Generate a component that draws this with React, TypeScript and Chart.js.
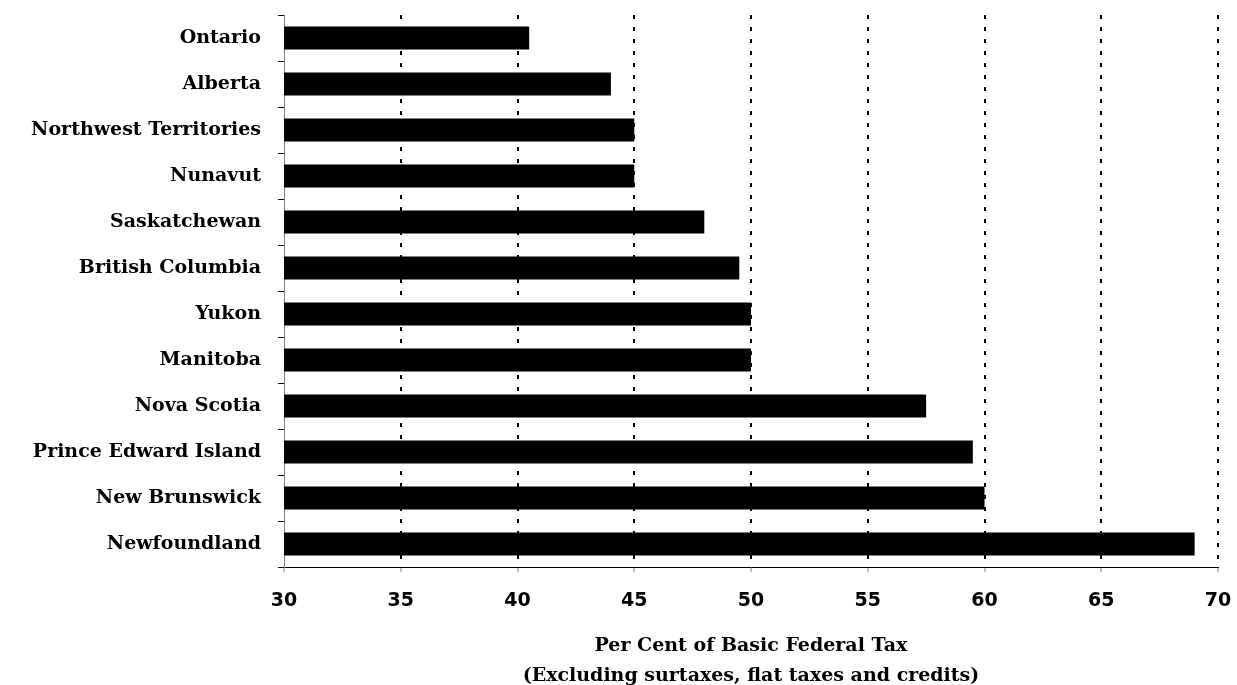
import React, { useEffect, useRef } from "react";
import { Chart, registerables } from "chart.js";

Chart.register(...registerables);

const provinces = [
  "Ontario",
  "Alberta",
  "Northwest Territories",
  "Nunavut",
  "Saskatchewan",
  "British Columbia",
  "Yukon",
  "Manitoba",
  "Nova Scotia",
  "Prince Edward Island",
  "New Brunswick",
  "Newfoundland",
];

const ratePercent = [40.5, 44, 45, 45, 48, 49.5, 50, 50, 57.5, 59.5, 60, 69];

const xMin = 30;
const xMax = 70;
const xStep = 5;

const xTitle = [
  "Per Cent of Basic Federal Tax",
  "(Excluding surtaxes, flat taxes and credits)",
];

export default function App() {
  const canvasRef = useRef<HTMLCanvasElement | null>(null);

  useEffect(() => {
    const canvas = canvasRef.current;
    if (!canvas) return;
    const chart = new Chart(canvas, {
      type: "bar",
      data: {
        labels: provinces,
        datasets: [
          {
            data: ratePercent,
            backgroundColor: "#000000",
            borderColor: "#000000",
            borderWidth: 0,
            barPercentage: 0.5,
            categoryPercentage: 1,
          },
        ],
      },
      options: {
        indexAxis: "y",
        animation: false,
        responsive: true,
        maintainAspectRatio: false,
        layout: { padding: { top: 15, right: 19, left: 0, bottom: 0 } },
        plugins: {
          legend: { display: false },
          tooltip: { enabled: false },
        },
        scales: {
          x: {
            type: "linear",
            min: xMin,
            max: xMax,
            ticks: {
              stepSize: xStep,
              color: "#000000",
              padding: 18,
              font: { family: "'DejaVu Sans'", size: 19, weight: "bold" },
            },
            grid: {
              color: (ctx: any) =>
                ctx.tick && ctx.tick.value === xMin ? "rgba(0,0,0,0)" : "#000000",
              lineWidth: 2,
              tickLength: 5,
              tickColor: "#808080",
              tickWidth: 1,
              tickBorderDash: [],
            },
            border: {
              display: true,
              color: "#000000",
              width: 1,
              dash: [4, 8],
            },
            title: {
              display: true,
              text: xTitle,
              color: "#000000",
              font: { family: "'DejaVu Serif'", size: 19, weight: "bold", lineHeight: 30 / 19 },
              padding: { top: 0, bottom: -6 },
            },
            afterFit: (scale: any) => {
              scale.height = 118;
              scale.paddingLeft = 0;
              scale.paddingRight = 0;
            },
          },
          y: {
            type: "category",
            ticks: {
              color: "#000000",
              padding: 17,
              autoSkip: false,
              font: { family: "'DejaVu Serif'", size: 19, weight: "bold" },
            },
            grid: {
              display: true,
              drawOnChartArea: false,
              offset: true,
              tickLength: 6,
              tickColor: "#000000",
              tickWidth: 1,
            },
            border: { display: true, color: "#808080", width: 1 },
            afterFit: (scale: any) => {
              scale.width = 284;
              scale.paddingTop = 0;
              scale.paddingBottom = 0;
            },
          },
        },
      },
    });
    return () => chart.destroy();
  }, []);

  return (
    <div
      style={{
        position: "fixed",
        left: 0,
        top: 0,
        width: 1237,
        height: 685,
        background: "#ffffff",
      }}
    >
      <canvas ref={canvasRef} />
    </div>
  );
}
